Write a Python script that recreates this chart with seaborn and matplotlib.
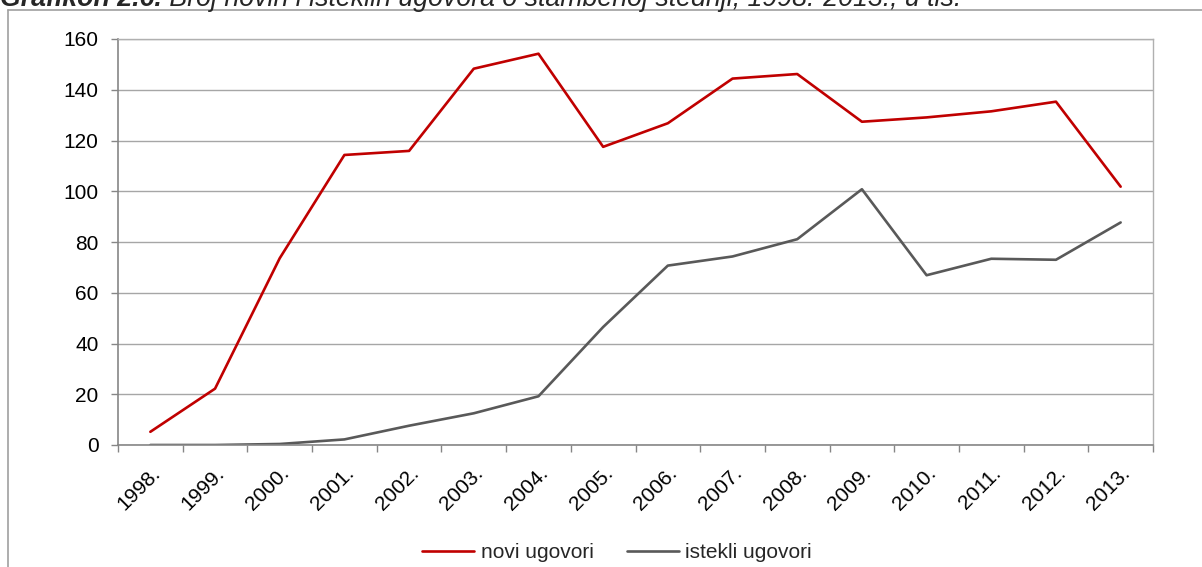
import matplotlib
matplotlib.use("Agg")
import matplotlib.pyplot as plt
import seaborn as sns
import pandas as pd
import numpy as np
from matplotlib.lines import Line2D
from matplotlib.ticker import FixedLocator

years = ["1998.", "1999.", "2000.", "2001.", "2002.", "2003.", "2004.", "2005.",
         "2006.", "2007.", "2008.", "2009.", "2010.", "2011.", "2012.", "2013."]
novi_ugovori = [5.2, 22.2, 73.6, 114.3, 115.9, 148.3, 154.2, 117.5,
                126.8, 144.4, 146.2, 127.4, 129.1, 131.5, 135.3, 101.8]
istekli_ugovori = [0.0, 0.0, 0.4, 2.2, 7.6, 12.5, 19.2, 46.5,
                   70.7, 74.3, 81.1, 100.8, 66.9, 73.4, 73.0, 87.7]
series_names = ["novi ugovori", "istekli ugovori"]
y_ticks = [0, 20, 40, 60, 80, 100, 120, 140, 160]
title_bold = "Grafikon 2.6."
title_rest = " Broj novih i isteklih ugovora o stambenoj štednji, 1998.-2013., u tis."

sns.set_theme(style="white")
plt.rcParams['font.family'] = ['Liberation Sans', 'DejaVu Sans']

idx = np.arange(len(years))
df = pd.DataFrame({
    "i": np.concatenate([idx, idx]),
    "value": novi_ugovori + istekli_ugovori,
    "serija": [series_names[0]] * len(years) + [series_names[1]] * len(years),
})

W, H = 1202, 567
fig = plt.figure(figsize=(W / 100, H / 100), dpi=100)
ax = fig.add_axes([118 / W, 1 - 445 / H, (1153 - 118) / W, (445 - 39) / H])

sns.lineplot(data=df, x="i", y="value", hue="serija",
             palette={series_names[0]: "#C00000", series_names[1]: "#595959"},
             linewidth=1.9, ax=ax, legend=False)

ax.set_xlim(-0.5, len(years) - 0.5)
ax.set_ylim(0, 160)
ax.set_yticks(y_ticks)
ax.set_yticklabels([str(v) for v in y_ticks])
ax.set_xticks(idx)
ax.set_xticklabels(years, rotation=45, ha="right", rotation_mode="anchor")
ax.xaxis.set_minor_locator(FixedLocator(np.arange(-0.5, len(years), 1.0)))
ax.tick_params(axis="x", which="major", length=0, pad=13, labelsize=15, colors="black")
ax.tick_params(axis="x", which="minor", length=5, width=1, color="#868686", bottom=True)
ax.tick_params(axis="y", which="major", length=5, width=1, color="#868686", pad=9,
               labelsize=15, labelcolor="black", left=True)
ax.set_xlabel("")
ax.set_ylabel("")
ax.grid(axis="y", color="#A6A6A6", linewidth=1)
ax.set_axisbelow(True)
for s in ["left", "bottom"]:
    ax.spines[s].set_color("#868686")
    ax.spines[s].set_linewidth(1.2)
for s in ["top", "right"]:
    ax.spines[s].set_color("#B0B0B0")
    ax.spines[s].set_linewidth(1)

handles = [Line2D([], [], color="#C00000", linewidth=1.9),
           Line2D([], [], color="#595959", linewidth=1.9)]
fig.legend(handles, series_names, loc="center", bbox_to_anchor=(617 / W, 1 - 553 / H),
           ncol=2, frameon=False, fontsize=15, handlelength=2.5, handletextpad=0.3,
           columnspacing=1.6, borderpad=0.2)

# outer chart border (only top and left visible in the crop)
fig.add_artist(Line2D([8 / W, 8 / W], [0, 1 - 10 / H], color="#A0A0A0", linewidth=1.2,
                      transform=fig.transFigure))
fig.add_artist(Line2D([8 / W, 1], [1 - 10 / H, 1 - 10 / H], color="#A0A0A0", linewidth=1.2,
                      transform=fig.transFigure))

# caption above the chart, cut by the top edge as in the reference
t1 = fig.text(0.0, 1 - 5.5 / H, title_bold, fontsize=19.3, fontweight="bold", fontstyle="italic",
              va="baseline", ha="left")
fig.canvas.draw()
bb = t1.get_window_extent()
fig.text(bb.x1 / W, 1 - 5.5 / H, title_rest, fontsize=19.3, fontstyle="italic",
         va="baseline", ha="left")

fig.savefig("out.png", dpi=100)
